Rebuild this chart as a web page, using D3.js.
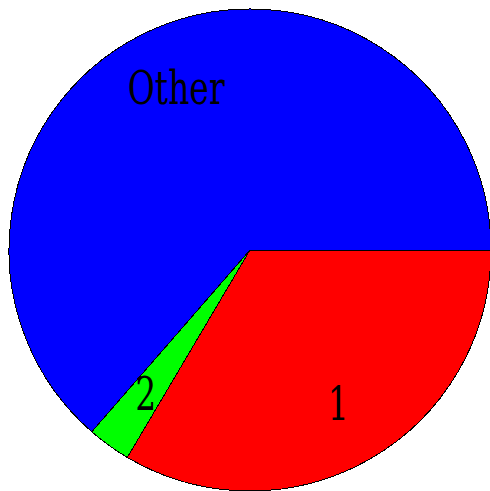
<!DOCTYPE html>
<html>
<meta charset="utf-8">
<script src="https://d3js.org/d3.v7.min.js"></script>
<style>
  body { margin: 0; background: #fff; }
  svg { display: block; }
</style>
<body>
<script>
// slices in drawing order, clockwise from 3 o'clock
const labels = ["1", "2", "Other"];
const values = [33.5, 2.9, 63.6];
const colors = ["#ff0000", "#00ff00", "#0000ff"];

const width = 490, height = 491;
const cx = 250, cy = 250, radius = 241;

const svg = d3.select("body").append("svg")
  .attr("width", width)
  .attr("height", height);

const g = svg.append("g")
  .attr("transform", `translate(${cx},${cy})`);

const pie = d3.pie()
  .sort(null)
  .value(d => d)
  .startAngle(Math.PI / 2)
  .endAngle(Math.PI / 2 + 2 * Math.PI);

const arc = d3.arc().innerRadius(0).outerRadius(radius);
const labelArc = d3.arc().innerRadius(178).outerRadius(178);

const arcs = pie(values);

g.selectAll("path").data(arcs)
  .enter()
  .append("path")
  .attr("d", arc)
  .attr("fill", (d, i) => colors[i])
  .attr("stroke", "#000")
  .attr("stroke-width", 1)
  .attr("shape-rendering", "crispEdges");

g.selectAll("text").data(arcs)
  .enter()
  .append("text")
  .attr("transform", d => {
    const [x, y] = labelArc.centroid(d);
    return `translate(${x},${y}) scale(1,1.4)`;
  })
  .attr("text-anchor", "middle")
  .attr("dy", "0.34em")
  .style("font-family", "'DejaVu Serif', serif")
  .style("font-size", "33px")
  .style("font-weight", "300")
  .attr("fill", "#000")
  .text((d, i) => labels[i]);
</script>
</body>
</html>
